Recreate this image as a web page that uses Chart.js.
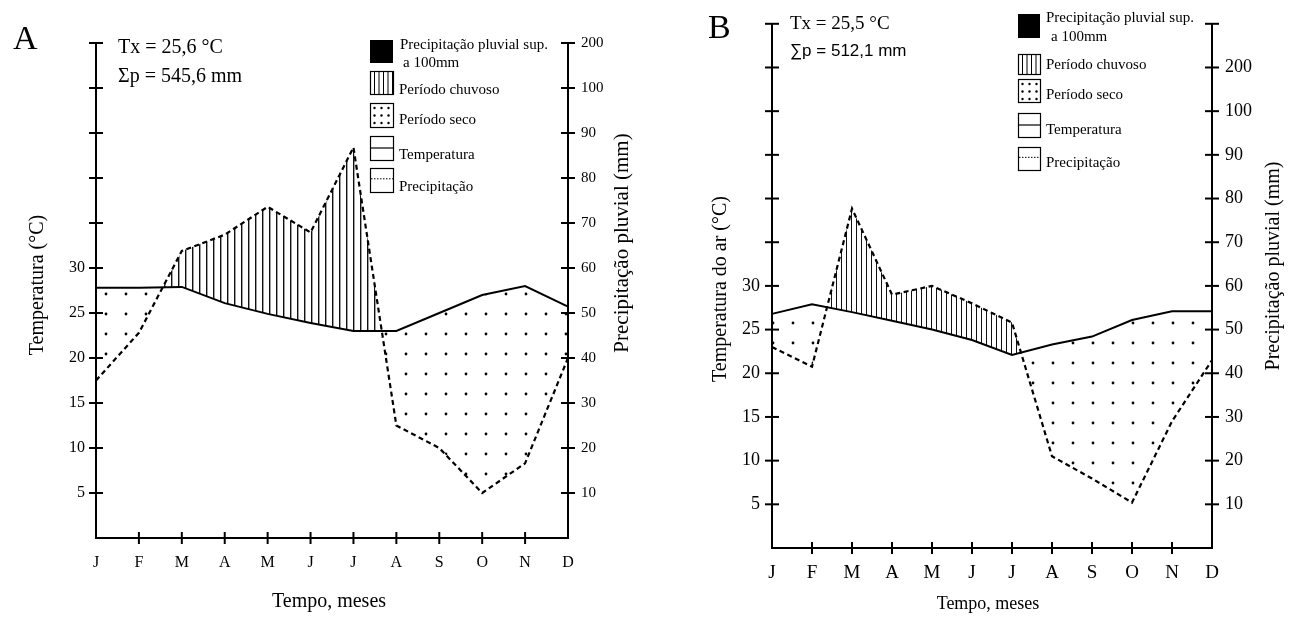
<!DOCTYPE html>
<html lang="pt">
<head>
<meta charset="utf-8">
<title>Diagramas climáticos A e B</title>
<script src="https://cdn.jsdelivr.net/npm/chart.js@4.4.1/dist/chart.umd.min.js"></script>
<style>
  html, body { margin: 0; padding: 0; background: #fff; }
  #wrap { position: relative; width: 1298px; height: 624px; background: #fff; }
  .panel { position: absolute; top: 0; width: 649px; height: 624px; }
  #panelA { left: 0; }
  #panelB { left: 649px; }
</style>
</head>
<body>
<div id="wrap">
  <div class="panel" id="panelA"><canvas id="chartA" width="649" height="624"></canvas></div>
  <div class="panel" id="panelB"><canvas id="chartB" width="649" height="624"></canvas></div>
</div>
<script>
// Monthly values
const months = ['J', 'F', 'M', 'A', 'M', 'J', 'J', 'A', 'S', 'O', 'N', 'D'];

// Diagram A (Tx = 25,6 °C, Σp = 545,6 mm)
const tempA = [27.8, 27.8, 27.9, 26.1, 24.9, 23.9, 23.0, 23.0, 25.0, 27.0, 28.0, 25.7];
const rainA = [35.0, 45.6, 63.8, 67.4, 73.6, 67.9, 86.8, 25.0, 20.0, 10.0, 16.6, 40.0];

// Diagram B (Tx = 25,5 °C, ∑p = 512,1 mm)
const tempB = [26.8, 27.9, 27.0, 26.0, 25.0, 23.8, 22.1, 23.3, 24.2, 26.1, 27.1, 27.1];
const rainB = [46.0, 41.5, 77.7, 58.0, 60.0, 56.0, 51.6, 21.0, 15.9, 10.4, 29.0, 43.0];

// tick labels: temperature only up to 30, rain up to 100, then the compressed 200 mm step
const tempTickLabels = [5, 10, 15, 20, 25, 30];
const rainTickLabels = [10, 20, 30, 40, 50, 60, 70, 80, 90, 100];
const rainTopLabel = '200';

const SERIF = "'Liberation Serif', 'Times New Roman', serif";
const SANS = "'Liberation Sans', Arial, sans-serif";

Chart.defaults.color = '#000';

function hatchPattern(step) {
    const c = document.createElement('canvas');
    c.width = step; c.height = 4;
    const g = c.getContext('2d');
    g.fillStyle = '#111';
    g.fillRect(Math.floor(step / 2), 0, step > 6 ? 1.4 : 1, 4);
    return g.createPattern(c, 'repeat');
}

function dotPattern(ox, oy) {
    const c = document.createElement('canvas');
    c.width = 20; c.height = 20;
    const g = c.getContext('2d');
    g.fillStyle = '#000';
    g.beginPath();
    g.arc(ox, oy, 1.4, 0, Math.PI * 2);
    g.fill();
    return g.createPattern(c, 'repeat');
}

// tick marks that cross the axis lines, placed through the chart's own scales
const crossTicks = {
    id: 'crossTicks',
    afterDraw(chart) {
        const ctx = chart.ctx;
        const area = chart.chartArea;
        ctx.save();
        ctx.strokeStyle = '#000';
        ctx.lineWidth = 2;
        ['y', 'y2'].forEach(id => {
            const s = chart.scales[id];
            const x = id === 'y' ? area.left : area.right;
            s.ticks.forEach((t, i) => {
                if (t.value === 0) return;
                const py = s.getPixelForTick(i);
                ctx.beginPath();
                ctx.moveTo(x - 7, py);
                ctx.lineTo(x + 7, py);
                ctx.stroke();
            });
        });
        const sx = chart.scales.x;
        sx.ticks.forEach((t, i) => {
            if (i === 0 || i === sx.ticks.length - 1) return;
            const px = sx.getPixelForTick(i);
            ctx.beginPath();
            ctx.moveTo(px, area.bottom - 6);
            ctx.lineTo(px, area.bottom + 6);
            ctx.stroke();
        });
        ctx.restore();
    }
};

function drawRotated(ctx, text, x, y, font) {
    ctx.save();
    ctx.translate(x, y);
    ctx.rotate(-Math.PI / 2);
    ctx.font = font;
    ctx.textAlign = 'center';
    ctx.textBaseline = 'middle';
    ctx.fillText(text, 0, 0);
    ctx.restore();
}

function drawLegend(ctx, L) {
    const x = L.x, w = L.w;
    ctx.save();
    ctx.strokeStyle = '#000';
    ctx.fillStyle = '#000';
    ctx.lineWidth = 1.2;
    L.items.forEach(it => {
        const [y, h] = it.box;
        if (it.kind === 'solid') {
            ctx.fillRect(x, y, w, h);
        } else {
            ctx.strokeRect(x + 0.5, y + 0.5, w, h);
            if (it.kind === 'hatch') {
                ctx.lineWidth = 1;
                for (let hx = x + 4.5; hx < x + w; hx += 4.5) {
                    ctx.beginPath();
                    ctx.moveTo(hx, y);
                    ctx.lineTo(hx, y + h);
                    ctx.stroke();
                }
                ctx.lineWidth = 1.2;
            } else if (it.kind === 'dots') {
                for (let r = 0; r < 3; r++) {
                    for (let c = 0; c < 3; c++) {
                        ctx.beginPath();
                        ctx.arc(x + 4.5 + c * 7, y + 5 + r * 7.5, 1.2, 0, Math.PI * 2);
                        ctx.fill();
                    }
                }
            } else if (it.kind === 'line') {
                ctx.beginPath();
                ctx.moveTo(x, y + h / 2);
                ctx.lineTo(x + w, y + h / 2);
                ctx.stroke();
            } else if (it.kind === 'dash') {
                ctx.save();
                ctx.lineWidth = 1;
                ctx.setLineDash([1.5, 1.5]);
                ctx.beginPath();
                ctx.moveTo(x + 1, y + h * 0.45);
                ctx.lineTo(x + w, y + h * 0.45);
                ctx.stroke();
                ctx.restore();
            }
        }
        ctx.font = L.size + 'px ' + SERIF;
        ctx.textAlign = 'left';
        ctx.textBaseline = 'middle';
        it.text.forEach(([t, tx, ty]) => ctx.fillText(t, tx, ty));
    });
    ctx.restore();
}

function notesPlugin(n) {
    return {
        id: 'notes',
        afterDraw(chart) {
            const ctx = chart.ctx;
            ctx.save();
            ctx.fillStyle = '#000';
            ctx.textAlign = 'left';
            ctx.textBaseline = 'alphabetic';
            ctx.font = n.letter.size + 'px ' + SERIF;
            ctx.fillText(n.letter.text, n.letter.x, n.letter.y);

            ctx.textBaseline = 'middle';
            n.stats.forEach(s => {
                ctx.font = s.font;
                ctx.fillText(s.text, s.x, s.y);
            });

            drawRotated(ctx, n.titleLeft.text, n.titleLeft.x, n.titleLeft.y, n.titleLeft.font);
            drawRotated(ctx, n.titleRight.text, n.titleRight.x, n.titleRight.y, n.titleRight.font);
            ctx.font = n.titleBottom.font;
            ctx.textAlign = 'center';
            ctx.fillText(n.titleBottom.text, n.titleBottom.x, n.titleBottom.y);
            ctx.restore();

            drawLegend(ctx, n.legend);
        }
    };
}

function buildChart(canvasId, cfg) {
    const canvas = document.getElementById(canvasId);
    const ctx = canvas.getContext('2d');
    const axisBorder = { display: true, color: '#000', width: 2 };
    const noGrid = { display: false, drawTicks: false };
    return new Chart(ctx, {
        type: 'line',
        data: {
            labels: months,
            datasets: [
                {
                    label: 'Temperatura', data: cfg.temp, yAxisID: 'y',
                    borderColor: '#000', borderWidth: 2, pointRadius: 0, tension: 0, fill: false
                },
                {
                    label: 'Precipitação', data: cfg.rain, yAxisID: 'y2',
                    borderColor: '#000', borderWidth: 2.2, borderDash: [5, 3.5], pointRadius: 0, tension: 0,
                    fill: { target: 0, above: cfg.hatch, below: cfg.dots }
                }
            ]
        },
        options: {
            responsive: false,
            animation: false,
            layout: { padding: { top: cfg.top, left: 0, right: 0, bottom: 0 } },
            plugins: { legend: { display: false }, tooltip: { enabled: false } },
            scales: {
                x: {
                    grid: noGrid, border: axisBorder,
                    ticks: { color: '#000', font: { family: SERIF, size: cfg.xFont }, padding: cfg.xPad, maxRotation: 0, autoSkip: false },
                    afterFit: s => { s.height = cfg.xHeight; }
                },
                y: {
                    position: 'left', min: 0, max: cfg.tMax,
                    grid: noGrid, border: axisBorder,
                    ticks: {
                        stepSize: 5, autoSkip: false, color: '#000', padding: cfg.yPad,
                        font: { family: SERIF, size: cfg.yFont },
                        callback: v => tempTickLabels.includes(v) ? String(v) : ''
                    },
                    afterFit: s => { s.width = cfg.yWidth; }
                },
                y2: {
                    position: 'right', min: 0, max: cfg.pMax,
                    grid: noGrid, border: axisBorder,
                    ticks: {
                        stepSize: 10, autoSkip: false, color: '#000', padding: cfg.y2Pad,
                        font: { family: SERIF, size: cfg.y2Font },
                        callback: v => {
                            if (rainTickLabels.includes(v)) return String(v);
                            if (v === rainTickLabels[rainTickLabels.length - 1] + 10) return rainTopLabel;
                            return '';
                        }
                    },
                    afterFit: s => { s.width = cfg.y2Width; }
                }
            }
        },
        plugins: [crossTicks, notesPlugin(cfg.notes)]
    });
}

const ctxA = document.getElementById('chartA').getContext('2d');
const ctxB = document.getElementById('chartB').getContext('2d');

buildChart('chartA', {
    temp: tempA, rain: rainA,
    tMax: 55, pMax: 110,
    top: 43, yWidth: 96, y2Width: 81, xHeight: 86,
    xFont: 16, xPad: 15, yFont: 16, yPad: 11, y2Font: 15, y2Pad: 13,
    hatch: hatchPattern(7), dots: dotPattern(6, 14),
    notes: {
        letter: { text: 'A', x: 13, y: 49, size: 34 },
        stats: [
            { text: 'Tx = 25,6 °C', x: 118, y: 48, font: '20px ' + SERIF },
            { text: 'Σp = 545,6 mm', x: 118, y: 77, font: '20px ' + SERIF }
        ],
        titleLeft: { text: 'Temperatura (°C)', x: 38, y: 285, font: '20px ' + SERIF },
        titleRight: { text: 'Precipitação pluvial (mm)', x: 622, y: 243, font: '21px ' + SERIF },
        titleBottom: { text: 'Tempo, meses', x: 329, y: 602, font: '20px ' + SERIF },
        legend: {
            x: 370, w: 23, size: 15, items: [
                { kind: 'solid', box: [40, 23], text: [['Precipitação pluvial sup.', 400, 45], ['a 100mm', 403, 63]] },
                { kind: 'hatch', box: [71, 23], text: [['Período chuvoso', 399, 90]] },
                { kind: 'dots', box: [103, 24], text: [['Período seco', 399, 120]] },
                { kind: 'line', box: [136, 24], text: [['Temperatura', 399, 155]] },
                { kind: 'dash', box: [168, 24], text: [['Precipitação', 399, 187]] }
            ]
        }
    }
});

buildChart('chartB', {
    temp: tempB, rain: rainB,
    tMax: 60, pMax: 120,
    top: 19, yWidth: 123, y2Width: 86, xHeight: 76,
    xFont: 19, xPad: 14, yFont: 18, yPad: 12, y2Font: 18, y2Pad: 13,
    hatch: hatchPattern(5), dots: dotPattern(4, 3),
    notes: {
        letter: { text: 'B', x: 59, y: 38, size: 34 },
        stats: [
            { text: 'Tx = 25,5 °C', x: 141, y: 24, font: '19px ' + SERIF },
            { text: '∑p = 512,1 mm', x: 141, y: 51, font: '17px ' + SANS }
        ],
        titleLeft: { text: 'Temperatura do ar (°C)', x: 72, y: 289, font: '20px ' + SERIF },
        titleRight: { text: 'Precipitação pluvial (mm)', x: 625, y: 266, font: '20px ' + SERIF },
        titleBottom: { text: 'Tempo, meses', x: 339, y: 604, font: '18px ' + SERIF },
        legend: {
            x: 369, w: 22, size: 15, items: [
                { kind: 'solid', box: [14, 24], text: [['Precipitação pluvial sup.', 397, 18], ['a 100mm', 402, 37]] },
                { kind: 'hatch', box: [54, 20], text: [['Período chuvoso', 397, 65]] },
                { kind: 'dots', box: [79, 23], text: [['Período seco', 397, 95]] },
                { kind: 'line', box: [113, 24], text: [['Temperatura', 397, 130]] },
                { kind: 'dash', box: [147, 23], text: [['Precipitação', 397, 163]] }
            ]
        }
    }
});
</script>
</body>
</html>
